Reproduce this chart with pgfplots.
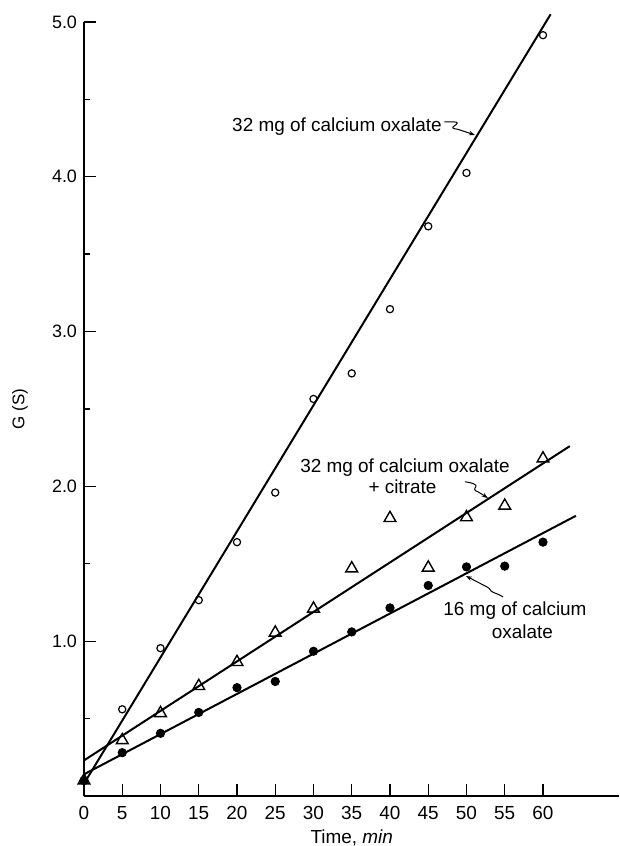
\documentclass[border=0pt]{standalone}
\usepackage{pgfplots}
\pgfplotsset{compat=1.18}
\usepackage{fontspec}
\setmainfont{Liberation Sans}
\usetikzlibrary{arrows.meta}

\begin{document}
\begin{tikzpicture}
\begin{axis}[name=ax, scale only axis, width=267.75bp, height=387bp,
  xmin=0, xmax=70, ymin=0, ymax=5,
  axis x line=bottom, axis y line=left,
  axis line style={-, line width=0.9bp},
  xtick={0,5,...,60}, ytick={1,2,3,4,5}, minor ytick={0.5,1.5,2.5,3.5,4.5},
  tick align=inside, major tick length=6bp, minor tick length=3bp,
  tick style={line width=0.7bp, black},
  /pgf/number format/assume math mode=true,
  yticklabel style={/pgf/number format/fixed, /pgf/number format/fixed zerofill,
     /pgf/number format/precision=1, font=\fontsize{9}{10}\selectfont},
  xticklabel style={font=\fontsize{9.5}{10}\selectfont, yshift=-1.5bp},
  xlabel={Time, \textit{min}}, ylabel={G (S)},
  xlabel style={font=\fontsize{9.5}{11}\selectfont, at={(axis description cs:0.5,-0.0543)}, anchor=center},
  ylabel style={font=\fontsize{8.5}{10}\selectfont, at={(axis description cs:-0.1195,0.5)}, anchor=center},
  clip=false,
]
% fitted lines
\addplot[black, line width=1bp] coordinates {(0,0.08) (61.0,5.05)};
\addplot[black, line width=1bp] coordinates {(0,0.23) (63.5,2.26)};
\addplot[black, line width=1bp] coordinates {(0,0.14) (64.3,1.81)};
% 32 mg of calcium oxalate
\addplot[only marks, mark=o, mark size=1.8bp, mark options={line width=0.6bp, fill=white}] coordinates {
 (0,0.10) (5,0.56) (10,0.955) (15,1.265) (20,1.64) (25,1.96) (30,2.565) (35,2.73)
 (40,3.145) (45,3.68) (50,4.025) (60,4.915)};
% 32 mg + citrate
\addplot[only marks, mark=triangle, mark size=3.4bp, mark options={line width=0.7bp, fill=white}] coordinates {
 (0,0.10) (5,0.36) (10,0.535) (15,0.71) (20,0.865) (25,1.055) (30,1.21) (35,1.47)
 (40,1.795) (45,1.475) (50,1.80) (55,1.875) (60,2.18)};
% 16 mg of calcium oxalate
\addplot[only marks, mark=*, mark size=2.1bp, mark options={black}] coordinates {
 (0,0.10) (5,0.28) (10,0.405) (15,0.54) (20,0.70) (25,0.74) (30,0.935) (35,1.06)
 (40,1.215) (45,1.36) (50,1.48) (55,1.485) (60,1.64)};

% annotations
\node[anchor=base east, inner sep=0pt, font=\fontsize{9.5}{11}\selectfont] at (axis cs:46.8,4.29) {32 mg of calcium oxalate};
\draw[line width=0.5bp, -{Stealth[length=3bp,width=2.2bp]}] (axis cs:47.1,4.355) -- ++(4.5bp,0)
   .. controls +(3bp,0) and +(1.5bp,1bp) .. ++(0.5bp,-2bp)
   .. controls +(-1.5bp,-1bp) and +(-3bp,0.5bp) .. ++(2bp,-1.8bp) -- (axis cs:51.1,4.27);

\node[anchor=base, inner sep=0pt, font=\fontsize{9.5}{11}\selectfont] at (axis cs:41.96,2.087) {32 mg of calcium oxalate};
\node[anchor=base, inner sep=0pt, font=\fontsize{9.5}{11}\selectfont] at (axis cs:41.63,1.951) {+ citrate};
\draw[line width=0.5bp, -{Stealth[length=3bp,width=2.2bp]}] (axis cs:49.8,2.03)
   .. controls +(3bp,-0.3bp) and +(1bp,1bp) .. ++(5.5bp,-2.5bp)
   .. controls +(-1bp,-1bp) and +(-2bp,0.5bp) .. ++(1bp,-2.5bp) -- (axis cs:52.8,1.925);

\node[anchor=base, inner sep=0pt, font=\fontsize{9.5}{11}\selectfont] at (axis cs:56.34,1.163) {16 mg of calcium};
\node[anchor=base, inner sep=0pt, font=\fontsize{9.5}{11}\selectfont] at (axis cs:57.32,1.016) {oxalate};
\draw[line width=0.5bp, -{Stealth[length=3bp,width=2.2bp]}] (axis cs:54.77,1.286)
   .. controls +(-2bp,1.5bp) and +(1bp,-1bp) .. ++(-6bp,3bp)
   .. controls +(-1bp,1bp) and +(1.5bp,-0.5bp) .. ++(-2bp,2bp) -- (axis cs:49.93,1.421);
\end{axis}
\pgfresetboundingbox
\path ([shift={(-42bp,-25bp)}]ax.south west) rectangle ([shift={(0bp,11bp)}]ax.north east);
\end{tikzpicture}
\end{document}
